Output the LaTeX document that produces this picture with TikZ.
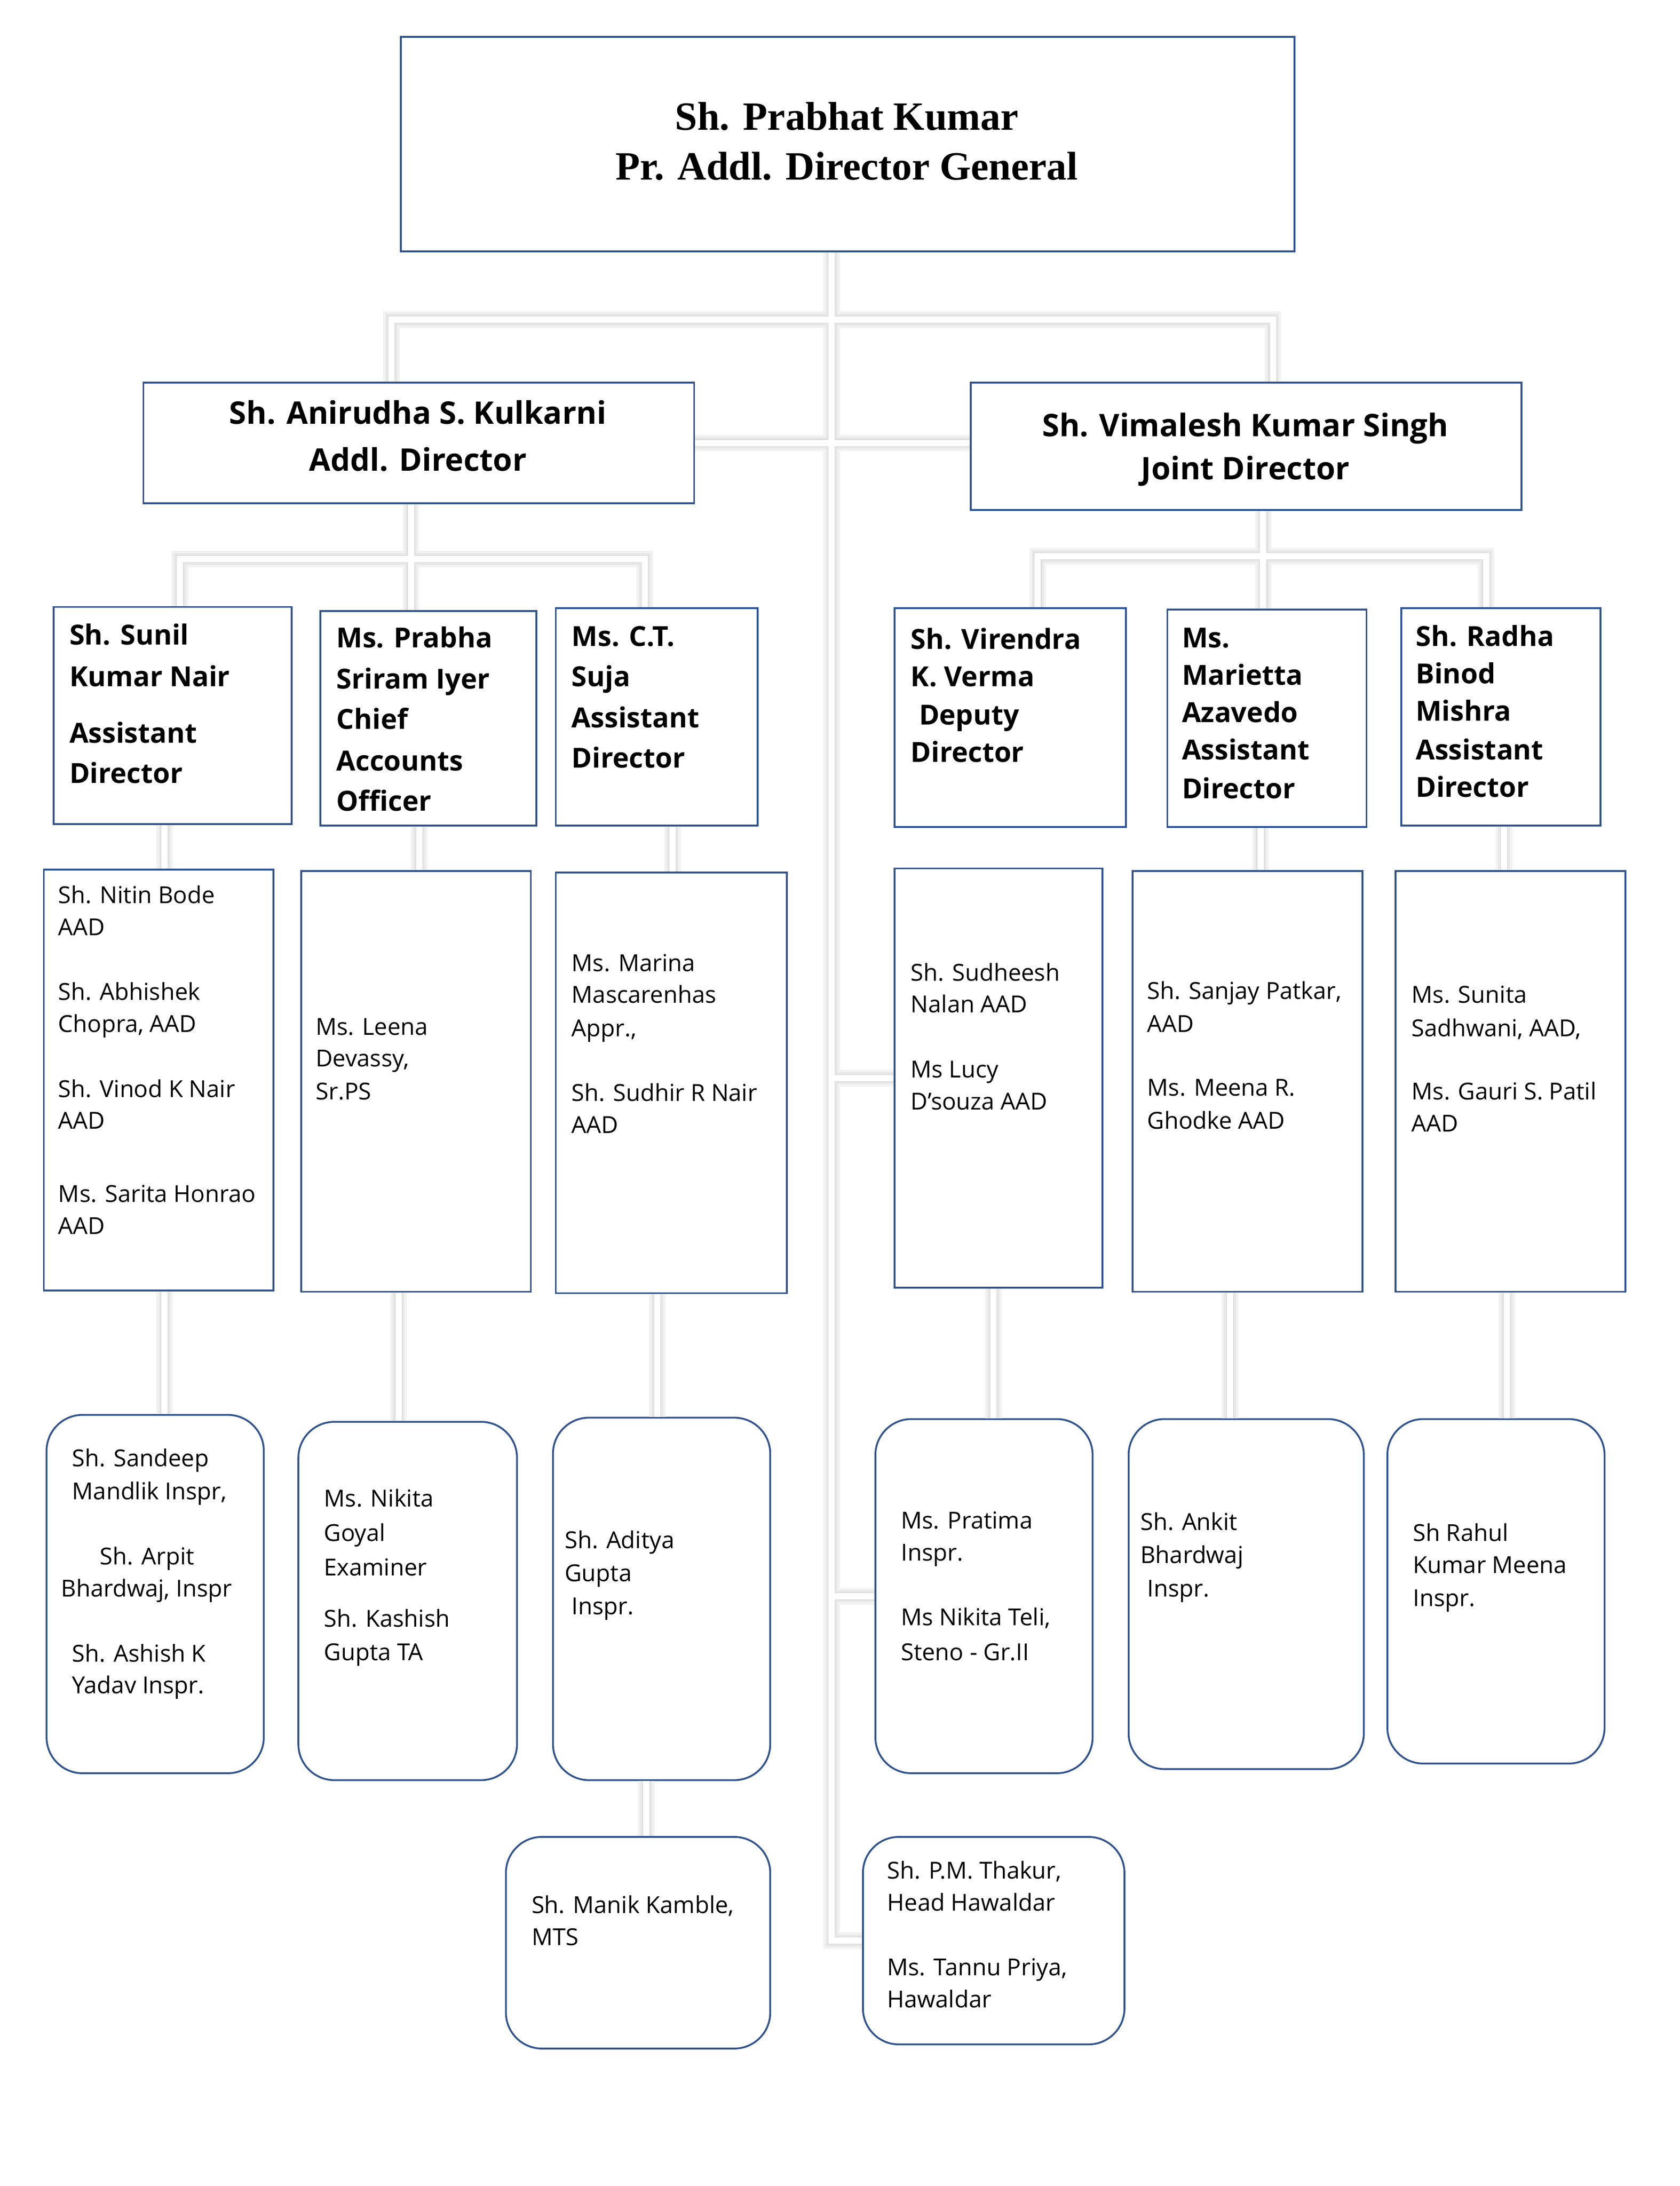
\documentclass[tikz,border=0pt]{standalone}
\usepackage{fontspec}
\setmainfont{Open Sans}
\newfontfamily\topfont{Liberation Serif}
\usetikzlibrary{calc}
\definecolor{bblue}{HTML}{2F528F}
\tikzset{
  box/.style={draw=bblue, line width=1.3pt, fill=white, anchor=north west, inner sep=0pt, rectangle},
  rbox/.style={box, rounded corners=26pt},
  tnorm/.style={font=\fontsize{16.9}{20}\selectfont, inner sep=0pt, anchor=base west},
  tbold/.style={font=\fontsize{20}{24}\selectfont\bfseries, inner sep=0pt, anchor=base west},
  thead/.style={font=\fontsize{22.5}{27}\selectfont\bfseries, inner sep=0pt, anchor=base},
  ttop/.style={font=\topfont\bfseries\fontsize{29}{34}\selectfont, inner sep=0pt, anchor=base},
  shadowa/.style={draw=black!5, line width=12pt, shift={(1.5,1.5)}},
  shadowb/.style={draw=black!9, line width=8.5pt, shift={(1.5,1.5)}},
  shadowc/.style={draw=black!13, line width=6pt, shift={(1,1)}},
  wire/.style={draw=white, line width=4.5pt},
}
\newcommand\tlines[3]{\foreach \xx/\yy/\lt [count=\ii] in {#3}{\node[#1] (#2-\ii) at (\xx,\yy) {\lt};}}
\begin{document}
\begin{tikzpicture}[x=1pt,y=-1pt]
\useasboundingbox (0,0) rectangle (1214,1580);
\fill[white] (0,0) rectangle (1214,1580);
% boxes
\node[box, minimum width=646pt, minimum height=155pt] (top) at (289,26) {};
\node[box, minimum width=398pt, minimum height=87pt] (anir) at (103,276) {};
\node[box, minimum width=398pt, minimum height=92pt] (vim) at (701,276) {};
\node[box, minimum width=172pt, minimum height=157pt] (sunil) at (38,438) {};
\node[box, minimum width=156pt, minimum height=155pt] (prabha) at (231,441) {};
\node[box, minimum width=146pt, minimum height=157pt] (suja) at (401,439) {};
\node[box, minimum width=167pt, minimum height=158pt] (vir) at (646,439) {};
\node[box, minimum width=144pt, minimum height=157pt] (mar) at (843,440) {};
\node[box, minimum width=144pt, minimum height=157pt] (radha) at (1012,439) {};
\node[box, minimum width=166pt, minimum height=304pt] (nitin) at (31,628) {};
\node[box, minimum width=166pt, minimum height=304pt] (leena) at (217,629) {};
\node[box, minimum width=167pt, minimum height=304pt] (marina) at (401,630) {};
\node[box, minimum width=150pt, minimum height=303pt] (sudh) at (646,627) {};
\node[box, minimum width=166pt, minimum height=304pt] (sanjay) at (818,629) {};
\node[box, minimum width=166pt, minimum height=304pt] (sunita) at (1008,629) {};
\node[rbox, minimum width=157pt, minimum height=259pt] (sandeep) at (33,1022) {};
\node[rbox, minimum width=158pt, minimum height=259pt] (nikita) at (215,1027) {};
\node[rbox, minimum width=157pt, minimum height=262pt] (aditya) at (399,1024) {};
\node[rbox, minimum width=157pt, minimum height=256pt] (pratima) at (632,1025) {};
\node[rbox, minimum width=170pt, minimum height=253pt] (ankit) at (815,1025) {};
\node[rbox, minimum width=157pt, minimum height=249pt] (rahul) at (1002,1025) {};
\node[rbox, minimum width=191pt, minimum height=153pt] (manik) at (365,1327) {};
\node[rbox, minimum width=189pt, minimum height=150pt] (thakur) at (623,1327) {};
% connector coordinates
\coordinate (tx) at (601,0);
\coordinate (ax) at (283,0);
\coordinate (vx) at (920,0);
\coordinate (j1) at (601,231);
\coordinate (lj) at (297,404);
\coordinate (lx1) at (130,0);
\coordinate (lx3) at (466,0);
\coordinate (rj) at (913,402);
\coordinate (rx1) at (750,0);
\coordinate (rx3) at (1074,0);
\coordinate (v1) at (119,0);
\coordinate (v2) at (303,0);
\coordinate (v3) at (486,0);
\coordinate (v5) at (911,0);
\coordinate (v6) at (1087,0);
\coordinate (w2) at (288,0);
\coordinate (w3) at (475,0);
\coordinate (w4) at (718,0);
\coordinate (w5) at (889,0);
\coordinate (w6) at (1089,0);
\coordinate (w7) at (467,0);
\tikzset{conns/.style={insert path={
  (top.south -| tx) |- (thakur.west)
  (anir.north -| ax) |- (j1) -| (vim.north -| vx)
  (anir.east) -- (anir.east -| vim.west)
  (sunil.north -| lx1) |- (lj) -| (suja.north -| lx3)
  (anir.south -| lj) -- (prabha.north -| lj)
  (vir.north -| rx1) |- (rj) -| (radha.north -| rx3)
  (vim.south -| rj) -- (mar.north -| rj)
  (sudh.west -| tx) -- (sudh.west)
  (pratima.west -| tx) -- (pratima.west)
  (sunil.south -| v1) -- (nitin.north -| v1)
  (prabha.south -| v2) -- (leena.north -| v2)
  (suja.south -| v3) -- (marina.north -| v3)
  (mar.south -| v5) -- (sanjay.north -| v5)
  (radha.south -| v6) -- (sunita.north -| v6)
  (nitin.south -| v1) -- (sandeep.north -| v1)
  (leena.south -| w2) -- (nikita.north -| w2)
  (marina.south -| w3) -- (aditya.north -| w3)
  (sudh.south -| w4) -- (pratima.north -| w4)
  (sanjay.south -| w5) -- (ankit.north -| w5)
  (sunita.south -| w6) -- (rahul.north -| w6)
  (aditya.south -| w7) -- (manik.north -| w7)
}}}
\path[shadowa] [conns];
\path[shadowb] [conns];
\path[shadowc] [conns];
\path[wire] [conns];
% texts
\node[ttop] (top-1) at (612,94) {Sh. Prabhat Kumar};
\node[ttop] (top-2) at (612,130) {Pr. Addl. Director General};
\node[thead] (anir-1) at (302,306.5) {Sh. Anirudha S. Kulkarni};
\node[thead] (anir-2) at (302,340.5) {Addl. Director};
\node[thead] (vim-1) at (900,315.5) {Sh. Vimalesh Kumar Singh};
\node[thead] (vim-2) at (900,346.5) {Joint Director};
\tlines{tbold}{sunilt}{50/466/Sh. Sunil, 50/496/Kumar Nair, 50/537/Assistant, 50/566/Director}
\tlines{tbold}{prabhat}{243/468/Ms. Prabha, 243/498/Sriram Iyer, 243/527/Chief, 243/557/Accounts, 243/586/Officer}
\tlines{tbold}{sujat}{413/467/Ms. C.T., 413/496/Suja, 413/526/Assistant, 413/555/Director}
\tlines{tbold}{virt}{658/469/Sh. Virendra, 658/496/K. Verma, 664/524/Deputy, 658/551/Director}
\tlines{tbold}{mart}{854/468/Ms., 854/495/Marietta, 854/522/Azavedo, 854/549/Assistant, 854/577/Director}
\tlines{tbold}{radhat}{1023/467/Sh. Radha, 1023/494/Binod, 1023/521/Mishra, 1023/549/Assistant, 1023/576/Director}
\tlines{tnorm}{nitint}{42/653/Sh. Nitin Bode, 42/676/AAD, 42/723/Sh. Abhishek, 42/746/{Chopra, AAD}, 42/793/Sh. Vinod K Nair, 42/816/AAD, 42/869/Ms. Sarita Honrao, 42/892/AAD}
\tlines{tnorm}{leenat}{228/748/Ms. Leena, 228/771/{Devassy,}, 228/795/Sr.PS}
\tlines{tnorm}{marinat}{413/702/Ms. Marina, 413/725/Mascarenhas, 413/749/{Appr.,}, 413/796/Sh. Sudhir R Nair, 413/819/AAD}
\tlines{tnorm}{sudht}{658/709/Sh. Sudheesh, 658/732/Nalan AAD, 658/779/Ms Lucy, 658/802/D’souza AAD}
\tlines{tnorm}{sanjayt}{829/722/{Sh. Sanjay Patkar,}, 829/746/AAD, 829/792/Ms. Meena R., 829/816/Ghodke AAD}
\tlines{tnorm}{sunitat}{1020/725/Ms. Sunita, 1020/749/{Sadhwani, AAD,}, 1020/795/Ms. Gauri S. Patil, 1020/818/AAD}
\tlines{tnorm}{sandeept}{52/1060/Sh. Sandeep, 52/1084/{Mandlik Inspr,}, 72/1131/Sh. Arpit, 44/1154/{Bhardwaj, Inspr}, 52/1201/Sh. Ashish K, 52/1224/Yadav Inspr.}
\tlines{tnorm}{nikitat}{234/1089/Ms. Nikita, 234/1114/Goyal, 234/1139/Examiner, 234/1176/Sh. Kashish, 234/1200/Gupta TA}
\tlines{tnorm}{adityat}{408/1119/Sh. Aditya, 408/1143/Gupta, 413/1167/Inspr.}
\tlines{tnorm}{pratimat}{651/1105/Ms. Pratima, 651/1128/Inspr., 651/1175/{Ms Nikita Teli,}, 651/1200/Steno - Gr.II}
\tlines{tnorm}{ankitt}{824/1106/Sh. Ankit, 824/1130/Bhardwaj, 829/1154/Inspr.}
\tlines{tnorm}{rahult}{1021/1114/Sh Rahul, 1021/1137/Kumar Meena, 1021/1161/Inspr.}
\tlines{tnorm}{manikt}{384/1383/{Sh. Manik Kamble,}, 384/1406/MTS}
\tlines{tnorm}{thakurt}{641/1358/{Sh. P.M. Thakur,}, 641/1381/Head Hawaldar, 641/1428/{Ms. Tannu Priya,}, 641/1451/Hawaldar}
\end{tikzpicture}
\end{document}
